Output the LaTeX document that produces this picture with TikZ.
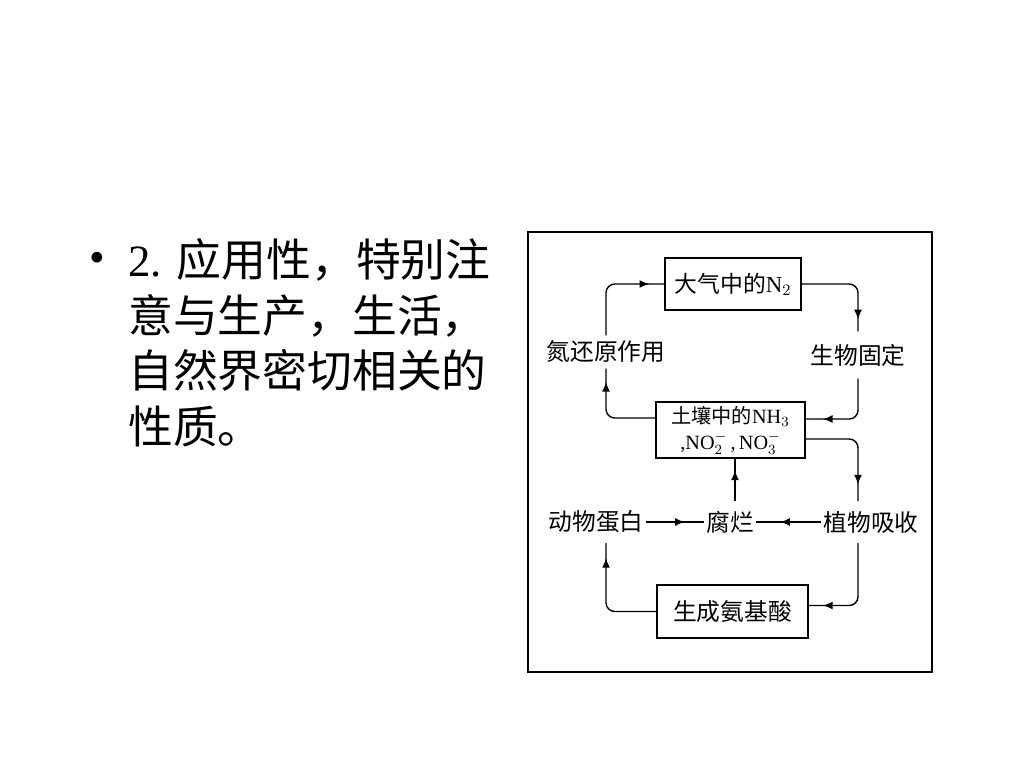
\documentclass[tikz,border=0pt]{standalone}
\usepackage{fontspec}
\setmainfont{Liberation Serif}
\newfontfamily\cjk{Noto Sans CJK SC}
\usetikzlibrary{positioning, calc, arrows.meta, decorations.markings}

\begin{document}
\begin{tikzpicture}[x=0.02cm, y=-0.02cm,
  box/.style={draw, line width=1.2pt, inner sep=0pt, align=center, font=\fontsize{11.5}{14}\selectfont},
  lbl/.style={inner xsep=1pt, font=\cjk\fontsize{13.5}{15}\selectfont},
  flow/.style={line width=0.8pt, rounded corners=5pt},
  midarrow/.style={postaction={decorate, decoration={markings, mark=at position #1 with {\arrow{Latex[length=5.5pt,width=4.5pt]}}}}}]

\useasboundingbox (0,0) rectangle (1024,768);

% left text
\node[font=\fontsize{25.5}{31.75}\selectfont] (dot) at (97,262) {•};
\node[anchor=north west, align=left, inner sep=0pt, font=\cjk\fontsize{25.5}{31.75}\selectfont] (txt) at (128,238)
{{\rmfamily 2. }应用性，特别注\\意与生产，生活，\\自然界密切相关的\\性质。};

% frame
\draw[line width=1.2pt] (528,232) rectangle (932,672);

% boxes
\node[box, minimum width=2.72cm, minimum height=1.04cm, font=\fontsize{13}{15}\selectfont] (air) at (733,284) {{\cjk 大气中的}N$_2$};
\node[box, minimum width=2.98cm, minimum height=1.12cm] (soil) at (730.5,430) {{\cjk 土壤中的}NH$_3$\\[1pt],NO$_2^-$\,,\,NO$_3^-$};
\node[box, minimum width=3.02cm, minimum height=1.06cm, font=\cjk\fontsize{13.5}{15}\selectfont] (amino) at (732.5,611.5) {生成氨基酸};

% labels
\node[lbl, inner ysep=3pt] (denit) at (606,352) {氮还原作用};
\node[lbl, inner ysep=7pt] (fix) at (858,355) {生物固定};
\node[lbl, inner ysep=5.5pt] (animal) at (596,522) {动物蛋白};
\node[lbl, inner ysep=5.5pt] (rot) at (730,522) {腐烂};
\node[lbl, inner ysep=5.5pt] (plant) at (871,522) {植物吸收};
\coordinate (rtop) at ($(rot.north)+(5,0)$);

% cycle
\draw[flow, midarrow=0.86] ($(soil.west)+(0,-12)$) -| (denit.south);
\draw[flow, midarrow=0.86] (denit.north) |- (air.west);
\draw[flow, midarrow=0.88] (air.east) -| (fix.north);
\draw[flow, midarrow=0.81] (fix.south) |- ($(soil.east)+(0,-11)$);
\draw[flow, midarrow=0.85] ($(soil.east)+(0,9)$) -| (plant.north -| fix);
\draw[flow, midarrow=0.87] (plant.south -| fix) |- ($(amino.east)+(0,-6)$);
\draw[flow, midarrow=0.87] (amino.west) -| (animal.south -| denit);
\draw[flow, midarrow=0.67] (animal.east) -- (rot.west);
\draw[flow, midarrow=0.63] (plant.west) -- (rot.east);
\draw[flow, midarrow=0.73] (rtop) -- (rtop |- soil.south);

\end{tikzpicture}
\end{document}
